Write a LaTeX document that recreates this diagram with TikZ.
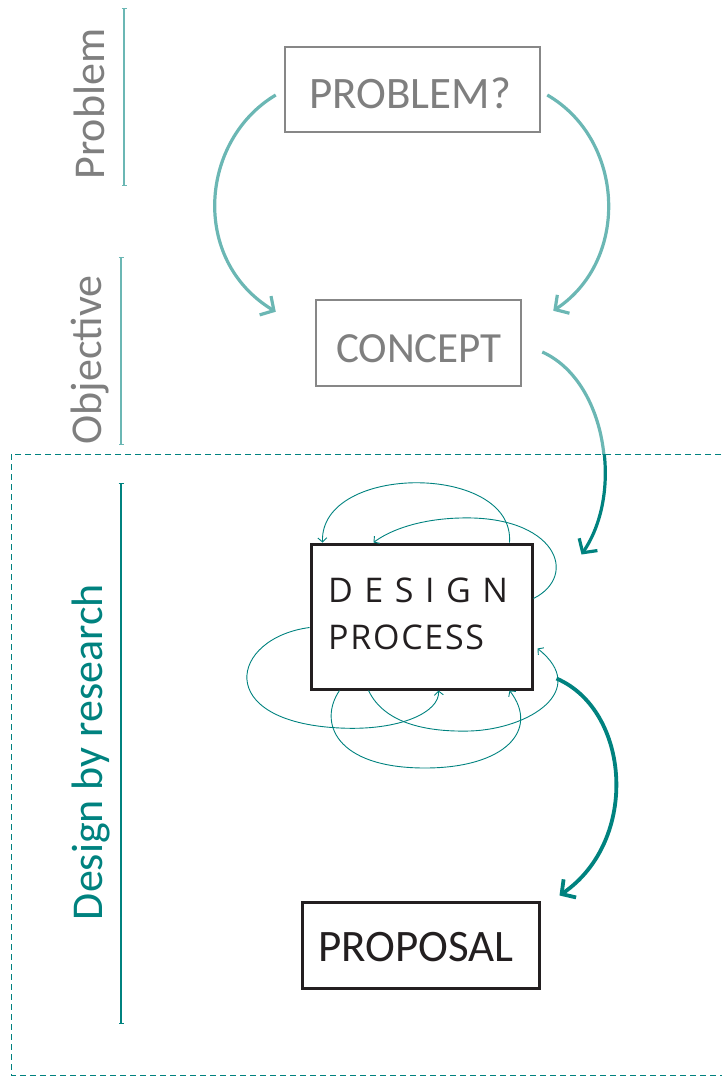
\documentclass[tikz,border=0pt]{standalone}
\usepackage{fontspec}
\setmainfont{Carlito}
\newfontfamily\osans{Open Sans}
\usetikzlibrary{arrows.meta}
\definecolor{lteal}{HTML}{6BB7B4}
\definecolor{dteal}{HTML}{00827F}
\definecolor{tgray}{HTML}{7F7F7F}
\definecolor{bgray}{HTML}{878787}
\definecolor{tblack}{HTML}{231F20}
\begin{document}
\begin{tikzpicture}[x=1pt,y=-1pt,
  graybox/.style={draw=bgray, line width=2.5pt, inner sep=0pt},
  blackbox/.style={draw=tblack, line width=3pt, inner sep=0pt},
  captext/.style={inner sep=0pt, anchor=base},
  sidelabel/.style={rotate=90, anchor=base, inner sep=0pt, font=\fontsize{44}{48}\selectfont},
  sidebar/.style={line width=1.1pt, {Bar[width=5pt]}-{Bar[width=5pt]}},
  bigarrow/.style={line width=3.2pt, -{Straight Barb[length=10pt,width=22pt]}},
  loop/.style={dteal, line width=0.9pt, -{Straight Barb[length=4pt,width=9pt]}}
]
\useasboundingbox (0,0) rectangle (722,1077);

% dashed frame
\draw[dteal, line width=1pt, dash pattern=on 6pt off 4pt] (11,454) rectangle (730,1075);

% side labels
\node[sidelabel, text=tgray] (lprob) at (104,104) {Problem};
\draw[sidebar, lteal] (124,8) -- (124,186);
\node[sidelabel, text=tgray] (lobj) at (101,360) {Objective};
\draw[sidebar, lteal] (121,257) -- (121,445);
\node[sidelabel, text=dteal] (ldes) at (102,752) {Design by research};
\draw[sidebar, dteal] (121,483) -- (121,1024);

% boxes
\node[graybox, minimum width=255pt, minimum height=85pt] (pb) at (412.5,89.5) {};
\node[captext, text=tgray, font=\fontsize{45}{50}\selectfont] (pbt) at (410,108) {PROBLEM?};

\node[graybox, minimum width=205pt, minimum height=86pt] (cp) at (418.5,343) {};
\node[captext, text=tgray, font=\fontsize{43}{48}\selectfont] (cpt) at (419,362) {CONCEPT};

\node[blackbox, minimum width=221pt, minimum height=145pt] (dp) at (421.5,616.5) {};
\node[captext, text=tblack, anchor=base west, font=\osans\fontsize{34}{38}\selectfont] (dpt1) at (328,602)
  {D\hspace{11.5pt}E\hspace{11.5pt}S\hspace{11.5pt}I\hspace{11.5pt}G\hspace{11.5pt}N};
\node[captext, text=tblack, anchor=base west, font=\osans\fontsize{34}{38}\selectfont\addfontfeature{LetterSpace=5}] (dpt2) at (328,649) {PROCESS};

\node[blackbox, minimum width=237pt, minimum height=86pt] (pp) at (420.5,945) {};
\node[captext, text=tblack, font=\fontsize{45}{50}\selectfont] (ppt) at (416,961) {PROPOSAL};

% big arrows
\draw[bigarrow, lteal] ([xshift=-8pt,yshift=-5.5pt]pb.west) .. controls (200,140) and (190,260) .. ([xshift=-39pt,yshift=-13pt]cp.north west);
\draw[bigarrow, lteal] ([xshift=6pt,yshift=-5.5pt]pb.east) .. controls (625,140) and (630,260) .. ([xshift=31pt,yshift=-12pt]cp.north east);

\begin{scope}
  \clip (0,0) rectangle (722,454);
  \draw[line width=3.2pt, lteal] ([xshift=20pt,yshift=-9pt]cp.east) .. controls (605,380) and (625,490) .. ([xshift=48pt,yshift=-12pt]dp.north east);
\end{scope}
\begin{scope}
  \clip (0,454) rectangle (722,1077);
  \draw[bigarrow, dteal] ([xshift=20pt,yshift=-9pt]cp.east) .. controls (605,380) and (625,490) .. ([xshift=48pt,yshift=-12pt]dp.north east);
\end{scope}

\draw[bigarrow, dteal, line width=3.8pt] ([xshift=23pt,yshift=12pt]dp.south east) .. controls (630,710) and (640,840) .. ([xshift=19pt,yshift=5pt]pp.north east);

% iteration loops
\draw[loop] ([xshift=200pt]dp.north west) .. controls (515,463) and (320,463) .. ([xshift=13pt]dp.north west);
\draw[loop] ([yshift=-56pt]dp.north east) .. controls (580,575) and (555,515) .. (460,518) .. controls (420,519) and (390,530) .. ([xshift=64pt]dp.north west);
\draw[loop] ([yshift=-85pt]dp.north west) .. controls (230,638) and (212,722) .. (340,728) .. controls (400,731) and (440,712) .. ([xshift=129pt]dp.south west);
\draw[loop] ([xshift=30pt]dp.south west) .. controls (318,722) and (335,768) .. (425,768) .. controls (505,768) and (540,730) .. ([xshift=200pt]dp.south west);
\draw[loop] ([xshift=59pt]dp.south west) .. controls (385,725) and (430,732) .. (470,731) .. controls (530,729) and (590,690) .. ([xshift=4pt,yshift=-106pt]dp.north east);
\end{tikzpicture}
\end{document}
